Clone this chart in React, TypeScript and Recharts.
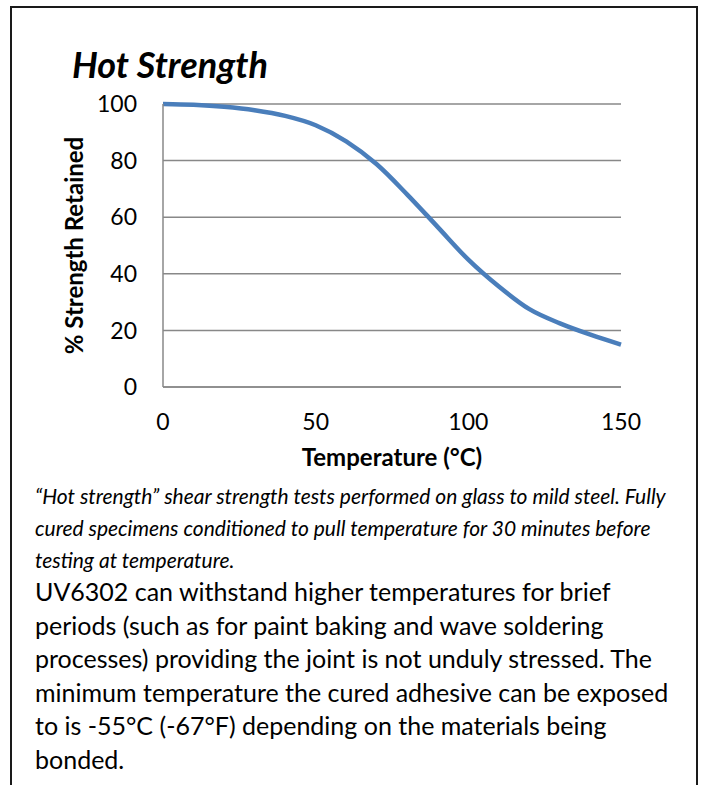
import { LineChart, Line, XAxis, YAxis, CartesianGrid } from "recharts";

// temperature (°C) vs % strength retained
const temps = [0, 10, 20, 30, 40, 50, 60, 70, 80, 90, 100, 110, 120, 130, 140, 150];
const strength = [100, 99.7, 99, 97.8, 95.8, 92.5, 86.8, 78.7, 68, 56.5, 45, 35.5, 27.5, 22.5, 18.5, 15];

const xTicks = [0, 50, 100, 150];
const yTicks = [0, 20, 40, 60, 80, 100];

const title = "Hot Strength";
const xTitle = "Temperature (°C)";
const yTitle = "% Strength Retained";

const noteLines = [
  "\u201CHot strength\u201D shear strength tests performed on glass to mild steel. Fully",
  "cured specimens conditioned to pull temperature for 30 minutes before",
  "testing at temperature.",
];

const bodyLines = [
  "UV6302 can withstand higher temperatures for brief",
  "periods (such as for paint baking and wave soldering",
  "processes) providing the joint is not unduly stressed. The",
  "minimum temperature the cured adhesive can be exposed",
  "to is -55°C (-67°F) depending on the materials being",
  "bonded.",
];

const data = temps.map((t, i) => ({ t, v: strength[i] }));

const FONT = "Lato, 'Open Sans', sans-serif";
const GRID = "#888888";
const LINE = "#4a7ebb";

export default function App() {
  return (
    <div style={{ position: "absolute", left: 0, top: 0, width: 702, height: 785, overflow: "hidden", background: "#fff" }}>
      <div
        style={{
          position: "absolute",
          left: 10,
          top: 6,
          width: 684,
          height: 800,
          border: "2px solid #1a1a1a",
          borderBottom: "none",
        }}
      />
      <div style={{ position: "absolute", left: 0, top: 0 }}>
        <LineChart width={702} height={480} data={data} margin={{ top: 104, right: 81, left: 0, bottom: 0 }}>
          <CartesianGrid vertical={false} stroke={GRID} strokeWidth={1.5} />
          <XAxis
            type="number"
            dataKey="t"
            domain={[0, 150]}
            ticks={xTicks}
            height={93}
            tickLine={false}
            tickSize={0}
            tickMargin={27}
            axisLine={{ stroke: GRID, strokeWidth: 1.5 }}
            tick={{ fill: "#000", fontSize: 23, fontFamily: FONT }}
            label={{ value: xTitle, position: "insideBottom", offset: 14, fill: "#000", fontSize: 24, fontWeight: "bold", fontFamily: FONT }}
          />
          <YAxis
            type="number"
            domain={[0, 100]}
            ticks={yTicks}
            width={163}
            tickLine={false}
            tickSize={0}
            tickMargin={26}
            axisLine={{ stroke: GRID, strokeWidth: 1.5 }}
            tick={{ fill: "#000", fontSize: 23, fontFamily: FONT }}
            label={{
              value: yTitle,
              angle: -90,
              position: "insideLeft",
              offset: 74,
              fill: "#000",
              fontSize: 24,
              fontWeight: "bold",
              fontFamily: FONT,
              style: { textAnchor: "middle" },
            }}
          />
          <Line type="monotone" dataKey="v" stroke={LINE} strokeWidth={4.5} dot={false} isAnimationActive={false} />
        </LineChart>
      </div>
      <svg width={702} height={785} style={{ position: "absolute", left: 0, top: 0, pointerEvents: "none" }} fontFamily={FONT}>
        <text x={72} y={78} fontSize={36} fontWeight="bold" fontStyle="italic" fill="#000">
          {title}
        </text>
        {noteLines.map((s, i) => (
          <text key={i} x={35} y={504 + i * 32} fontSize={21} fontStyle="italic" fill="#000">
            {s}
          </text>
        ))}
        {bodyLines.map((s, i) => (
          <text key={i} x={35} y={601 + i * 33.5} fontSize={25} fill="#000">
            {s}
          </text>
        ))}
      </svg>
    </div>
  );
}
